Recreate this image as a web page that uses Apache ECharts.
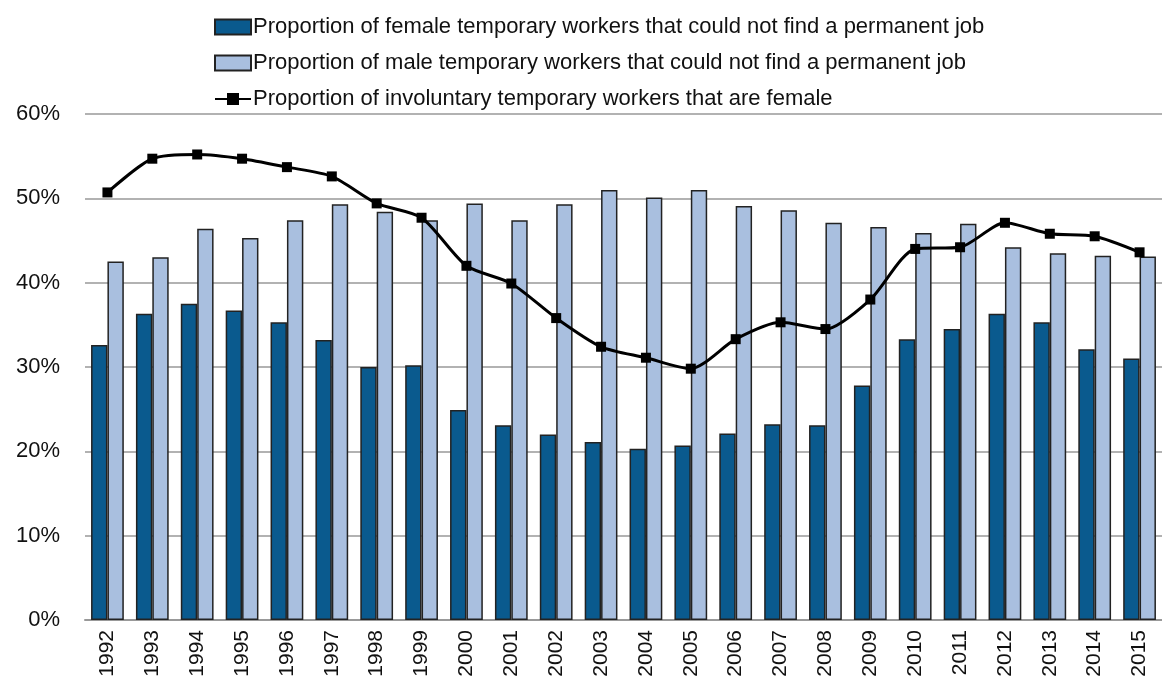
<!DOCTYPE html>
<html>
<head>
<meta charset="utf-8">
<script src="https://cdn.jsdelivr.net/npm/echarts@6/dist/echarts.min.js"></script>
<style>
  html, body { margin: 0; padding: 0; background: #fff; }
  #chart { width: 1162px; height: 684px; }
</style>
</head>
<body>
<div id="chart"></div>
<script>
// data (percent)
var years = ['1992','1993','1994','1995','1996','1997','1998','1999','2000','2001','2002','2003',
             '2004','2005','2006','2007','2008','2009','2010','2011','2012','2013','2014','2015'];
var femaleNoJob = [32.6, 36.3, 37.5, 36.7, 35.3, 33.2, 30.0, 30.2, 24.9, 23.1, 22.0, 21.1,
                   20.3, 20.7, 22.1, 23.2, 23.1, 27.8, 33.3, 34.5, 36.3, 35.3, 32.1, 31.0];
var maleNoJob = [42.5, 43.0, 46.4, 45.3, 47.4, 49.3, 48.4, 47.4, 49.4, 47.4, 49.3, 51.0,
                 50.1, 51.0, 49.1, 48.6, 47.1, 46.6, 45.9, 47.0, 44.2, 43.5, 43.2, 43.1];
var involuntaryFemale = [50.7, 54.7, 55.2, 54.7, 53.7, 52.6, 49.4, 47.7, 42.0, 39.9, 35.8, 32.4,
                         31.1, 29.8, 33.3, 35.3, 34.5, 38.0, 44.0, 44.2, 47.1, 45.8, 45.5, 43.6];

var nameF = 'Proportion of female temporary workers that could not find a permanent job';
var nameM = 'Proportion of male temporary workers that could not find a permanent job';
var nameL = 'Proportion of involuntary temporary workers that are female';

var myChart = echarts.init(document.getElementById('chart'));

var option = {
    animation: false,
    legend: {
        orient: 'vertical',
        left: 209,
        top: 11,
        itemWidth: 36,
        itemHeight: 15,
        itemGap: 14,
        textStyle: {
            fontFamily: 'Liberation Sans',
            fontSize: 22,
            color: '#111',
            padding: [0, 0, 0, -3]
        },
        data: [
            { name: nameF, icon: 'rect' },
            { name: nameM, icon: 'rect' },
            { name: nameL }
        ]
    },
    grid: {
        left: 85,
        right: -10,
        top: 114,
        bottom: 64,
        containLabel: false
    },
    xAxis: {
        type: 'category',
        data: years,
        axisTick: { show: false },
        axisLine: { lineStyle: { color: '#999', width: 2 } },
        axisLabel: {
            rotate: 90,
            interval: 0,
            margin: 10,
            fontFamily: 'Liberation Sans',
            fontSize: 21,
            color: '#111'
        }
    },
    yAxis: {
        type: 'value',
        min: 0,
        max: 60,
        interval: 10,
        axisLine: { show: false },
        axisTick: { show: false },
        axisLabel: {
            formatter: '{value}%',
            margin: 25,
            fontFamily: 'Liberation Sans',
            fontSize: 22,
            color: '#111'
        },
        splitLine: { lineStyle: { color: '#999', width: 1.5 } }
    },
    series: [
        {
            name: nameF,
            type: 'bar',
            data: femaleNoJob,
            barGap: '0%',
            barCategoryGap: '27%',
            itemStyle: { color: '#0a5a8e', borderColor: '#222', borderWidth: 1.5 }
        },
        {
            name: nameM,
            type: 'bar',
            data: maleNoJob,
            barGap: '0%',
            barCategoryGap: '27%',
            itemStyle: { color: '#a9bfdf', borderColor: '#222', borderWidth: 1.5 }
        },
        {
            name: nameL,
            type: 'line',
            data: involuntaryFemale,
            smooth: 0.25,
            symbol: 'rect',
            symbolSize: 10,
            lineStyle: { color: '#000', width: 3 },
            itemStyle: { color: '#000' },
            z: 5
        }
    ]
};

myChart.setOption(option);
</script>
</body>
</html>
